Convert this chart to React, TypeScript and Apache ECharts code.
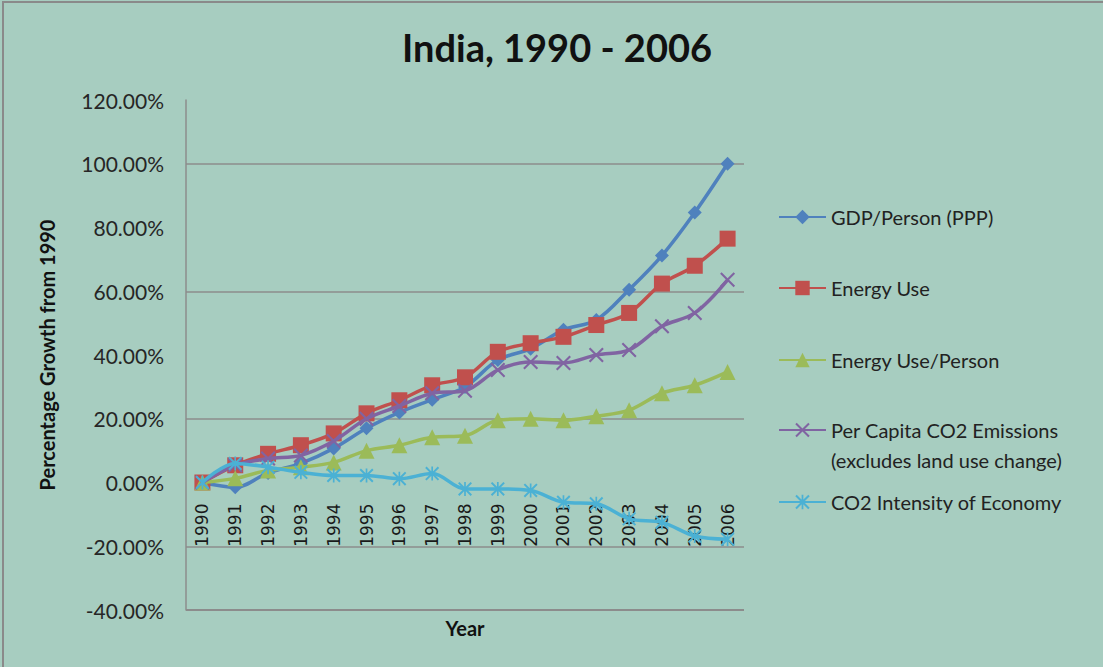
import React, { useEffect, useRef } from "react";
import * as echarts from "echarts";

const years = ["1990","1991","1992","1993","1994","1995","1996","1997","1998","1999","2000","2001","2002","2003","2004","2005","2006"];
const gdpPerPerson = [0, -1.5, 3, 6, 10.7, 17, 22, 26, 30, 38.4, 42, 47.9, 51, 60.5, 71.2, 84.7, 100];
const energyUse = [0, 5.4, 9, 11.7, 15.4, 21.7, 25.8, 30.5, 33, 41, 43.7, 45.7, 49.4, 53.2, 62.4, 68, 76.5];
const energyPerPerson = [0, 1.3, 3.8, 4.8, 6.3, 10, 11.7, 14.2, 14.7, 19.5, 20, 19.5, 20.8, 22.7, 28, 30.5, 34.7];
const perCapitaCO2 = [0, 5.4, 7.5, 8.5, 13, 20, 24, 28, 28.8, 35.3, 37.8, 37.5, 40, 41.6, 49, 53.2, 63.6];
const co2Intensity = [0, 6, 4.8, 3.2, 2.2, 2.2, 1.2, 2.8, -2, -2, -2.5, -6.2, -6.7, -11.4, -12.5, -16.8, -17.8];
const gridLineValues = [100, 60, 20, -20];
const seriesNames = [
  "GDP/Person (PPP)",
  "Energy Use",
  "Energy Use/Person",
  "Per Capita CO2 Emissions (excludes land use change)",
  "CO2 Intensity of Economy",
];

const X_PATH = "path://M1,0L5,4L9,0L10,1L6,5L10,9L9,10L5,6L1,10L0,9L4,5L0,1Z";
const STAR_PATH = "path://M4.4,0H5.6V10H4.4Z M1,0L5,4L9,0L10,1L6,5L10,9L9,10L5,6L1,10L0,9L4,5L0,1Z";

export default function App() {
  const ref = useRef<HTMLDivElement>(null);
  useEffect(() => {
    if (!ref.current) return;
    const chart = echarts.init(ref.current, null, { renderer: "svg" });
    const colors = ["#4f81bd", "#c0504d", "#9bbb59", "#8064a2", "#4bb1d4"];
    const dataSets = [gdpPerPerson, energyUse, energyPerPerson, perCapitaCO2, co2Intensity];
    const symbols = ["diamond", "rect", "triangle", X_PATH, STAR_PATH];
    const symbolSizes = [14, 16, 16, 15, 14];
    const legendTops = [202, 273, 345, 385, 487];

    const gridTop = 100;
    const gridHeight = 510;
    const yMin = -40;
    const yMax = 120;
    const zeroOffset = -(gridHeight * (0 - yMin)) / (yMax - yMin);

    const series: any[] = dataSets.map((d, i) => ({
      name: seriesNames[i],
      type: "line",
      data: d,
      smooth: 0.35,
      symbol: symbols[i],
      symbolSize: symbolSizes[i],
      showAllSymbol: true,
      lineStyle: { width: 3.5, color: colors[i] },
      itemStyle: { color: colors[i] },
      emphasis: { disabled: true },
      z: 2 + i,
    }));
    series[0].markLine = {
      silent: true,
      z: 1,
      symbol: ["none", "none"],
      label: { show: false },
      lineStyle: { color: "#8c8c8c", type: "solid", width: 1.5 },
      data: [
        ...gridLineValues.map((v) => ({ yAxis: v })),
        { yAxis: -40, lineStyle: { color: "#8c8c8c", type: "solid", width: 2 } },
      ],
    };

    const legends = seriesNames.map((n, i) => ({
      data: [n],
      orient: "vertical",
      left: 778,
      top: legendTops[i],
      padding: 0,
      itemWidth: 47,
      itemHeight: 18,
      selectedMode: false,
      formatter: i === 3 ? () => " \nPer Capita CO2 Emissions\n(excludes land use change)" : undefined,
      textStyle: {
        fontSize: 20,
        fontFamily: "Lato",
        color: "#222",
        lineHeight: 30,
      },
    }));

    chart.setOption({
      animation: false,
      backgroundColor: "#a7cdc0",
      grid: { left: 186, top: gridTop, width: 558, height: gridHeight, containLabel: false },
      xAxis: [
        {
          type: "category",
          data: years,
          boundaryGap: true,
          position: "bottom",
          offset: zeroOffset,
          axisLine: { show: false, onZero: false },
          axisTick: { show: false },
          splitLine: { show: false },
          axisLabel: {
            rotate: 90,
            interval: 0,
            margin: 21,
            fontSize: 17,
            fontFamily: "DejaVu Sans",
            color: "#1a1a1a",
          },
        },
      ],
      yAxis: {
        type: "value",
        min: yMin,
        max: yMax,
        interval: 20,
        axisLine: { show: true, lineStyle: { color: "#8c8c8c", width: 1.5 } },
        axisTick: { show: false },
        splitLine: { show: false },
        axisLabel: {
          formatter: (v: number) => v.toFixed(2) + "%",
          fontSize: 21,
          fontFamily: "Lato",
          color: "#262626",
          margin: 22,
        },
      },
      legend: legends,
      series,
      graphic: [
        {
          type: "rect",
          silent: true,
          shape: { x: 3, y: 2, width: 1120, height: 700 },
          style: { fill: "none", stroke: "#8a8a8a", lineWidth: 2 },
        },
        {
          type: "text",
          x: 557,
          y: 47,
          style: {
            text: "India, 1990 - 2006",
            fontSize: 38,
            fontWeight: "bold",
            fontFamily: "Lato",
            fill: "#111",
            align: "center",
            verticalAlign: "middle",
          },
        },
        {
          type: "text",
          x: 47,
          y: 355,
          rotation: Math.PI / 2,
          style: {
            text: "Percentage Growth from 1990",
            fontSize: 20,
            fontWeight: "bold",
            fontFamily: "Lato",
            fill: "#111",
            align: "center",
            verticalAlign: "middle",
          },
        },
        {
          type: "text",
          x: 465,
          y: 628,
          style: {
            text: "Year",
            fontSize: 20,
            fontWeight: "bold",
            fontFamily: "Lato",
            fill: "#111",
            align: "center",
            verticalAlign: "middle",
          },
        },
      ],
    });
    return () => chart.dispose();
  }, []);
  return (
    <div
      ref={ref}
      style={{ position: "absolute", left: 0, top: 0, width: 1103, height: 667 }}
    />
  );
}
